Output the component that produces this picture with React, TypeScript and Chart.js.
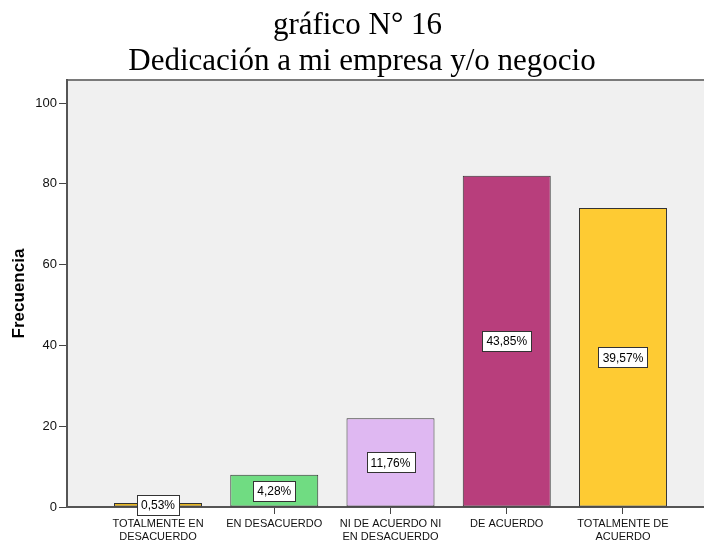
import React, { useEffect, useRef } from 'react';
import { Chart, registerables } from 'chart.js';

Chart.register(...registerables);

const titleLines = ['gráfico N° 16', 'Dedicación a mi empresa y/o negocio'];
const categories: string[][] = [
  ['TOTALMENTE EN', 'DESACUERDO'],
  ['EN DESACUERDO'],
  ['NI DE ACUERDO NI', 'EN DESACUERDO'],
  ['DE ACUERDO'],
  ['TOTALMENTE DE', 'ACUERDO'],
];
const frequencies = [1, 8, 22, 82, 74];
const percentLabels = ['0,53%', '4,28%', '11,76%', '43,85%', '39,57%'];
const barColors = ['#e6b41e', '#70dc82', '#dfb8f2', '#b83e7c', '#fecb33'];
const yTickValues = [0, 20, 40, 60, 80, 100];
const yAxisTitle = 'Frecuencia';

const SANS = '"Liberation Sans", Arial, sans-serif';

const plotBgPlugin = {
  id: 'plotBg',
  beforeDraw(chart: any) {
    const { ctx, chartArea } = chart;
    ctx.save();
    ctx.fillStyle = '#f0f0f0';
    ctx.fillRect(chartArea.left, chartArea.top, chartArea.right - chartArea.left, chartArea.bottom - chartArea.top);
    ctx.fillStyle = '#7a7a7a';
    ctx.fillRect(chartArea.left, chartArea.top - 1, chartArea.right - chartArea.left, 2);
    ctx.restore();
  },
};

const pctLabelPlugin = {
  id: 'pctLabels',
  afterDatasetsDraw(chart: any) {
    const ctx = chart.ctx;
    const meta = chart.getDatasetMeta(0);
    ctx.save();
    ctx.font = `12px ${SANS}`;
    ctx.textAlign = 'center';
    ctx.textBaseline = 'middle';
    meta.data.forEach((bar: any, i: number) => {
      const { x, y, base } = bar.getProps(['x', 'y', 'base'], true);
      const cy = (y + base) / 2;
      const text = percentLabels[i];
      const w = Math.round(ctx.measureText(text).width + 8);
      const h = 20;
      const left = Math.round(x - w / 2) + 0.5;
      const top = Math.round(cy - h / 2) + 0.5;
      ctx.fillStyle = '#ffffff';
      ctx.fillRect(left, top, w, h);
      ctx.strokeStyle = '#333333';
      ctx.lineWidth = 1;
      ctx.strokeRect(left, top, w, h);
      ctx.fillStyle = '#000000';
      ctx.fillText(text, x, cy + 1);
    });
    ctx.restore();
  },
};

export default function App() {
  const canvasRef = useRef<HTMLCanvasElement | null>(null);

  useEffect(() => {
    const canvas = canvasRef.current;
    if (!canvas) return;
    const chart = new Chart(canvas, {
      type: 'bar',
      data: {
        datasets: [
          {
            data: frequencies.map((v, i) => ({ x: i, y: v })),
            backgroundColor: barColors,
            borderColor: '#333333',
            borderWidth: 1,
            borderSkipped: false,
            categoryPercentage: 1,
            barPercentage: 0.757,
          },
        ],
      },
      options: {
        responsive: false,
        animation: false,
        devicePixelRatio: 1,
        layout: { padding: { top: 80, left: 0, right: 0, bottom: 0 } },
        plugins: {
          legend: { display: false },
          tooltip: { enabled: false },
          title: { display: false },
        },
        scales: {
          x: {
            type: 'linear',
            offset: false,
            min: -0.783,
            max: 4.783,
            afterBuildTicks: (scale: any) => {
              scale.ticks = categories.map((_, i) => ({ value: i }));
            },
            afterFit: (scale: any) => {
              scale.height = 36;
            },
            grid: {
              offset: false,
              drawOnChartArea: false,
              drawTicks: true,
              tickLength: 7,
              color: '#444444',
              lineWidth: 1,
            },
            border: { display: true, color: '#555555', width: 2 },
            ticks: {
              autoSkip: false,
              maxRotation: 0,
              minRotation: 0,
              padding: 3,
              color: '#111111',
              font: { family: SANS, size: 11, lineHeight: 1.2 },
              callback: (value: any) => categories[Math.round(Number(value))] ?? '',
            },
          },
          y: {
            type: 'linear',
            min: 0,
            max: 105.7,
            afterBuildTicks: (scale: any) => {
              scale.ticks = yTickValues.map((v) => ({ value: v }));
            },
            afterFit: (scale: any) => {
              scale.width = 67;
            },
            grid: {
              drawOnChartArea: false,
              drawTicks: true,
              tickLength: 8,
              color: '#444444',
              lineWidth: 1,
            },
            border: { display: true, color: '#555555', width: 2 },
            ticks: {
              padding: 2,
              color: '#111111',
              font: { family: SANS, size: 13 },
            },
            title: {
              display: true,
              text: yAxisTitle,
              color: '#000000',
              font: { family: SANS, size: 17, weight: 'bold' },
              padding: { top: 9, bottom: 0 },
            },
          },
        },
      },
      plugins: [plotBgPlugin, pctLabelPlugin],
    } as any);
    return () => chart.destroy();
  }, []);

  const titleStyle: React.CSSProperties = {
    position: 'absolute',
    left: 0,
    textAlign: 'center',
    fontFamily: '"Liberation Serif", "Times New Roman", serif',
    fontSize: '31px',
    lineHeight: '36px',
    color: '#000',
    whiteSpace: 'nowrap',
    margin: 0,
  };

  return (
    <div
      style={{
        position: 'fixed',
        left: 0,
        top: 0,
        width: '704px',
        height: '543px',
        overflow: 'hidden',
        background: '#ffffff',
      }}
    >
      <canvas ref={canvasRef} width={714} height={543} style={{ position: 'absolute', left: 0, top: 0 }} />
      <div style={{ ...titleStyle, top: '5.5px', width: '715px' }}>{titleLines[0]}</div>
      <div style={{ ...titleStyle, top: '41.5px', width: '724px' }}>{titleLines[1]}</div>
    </div>
  );
}
